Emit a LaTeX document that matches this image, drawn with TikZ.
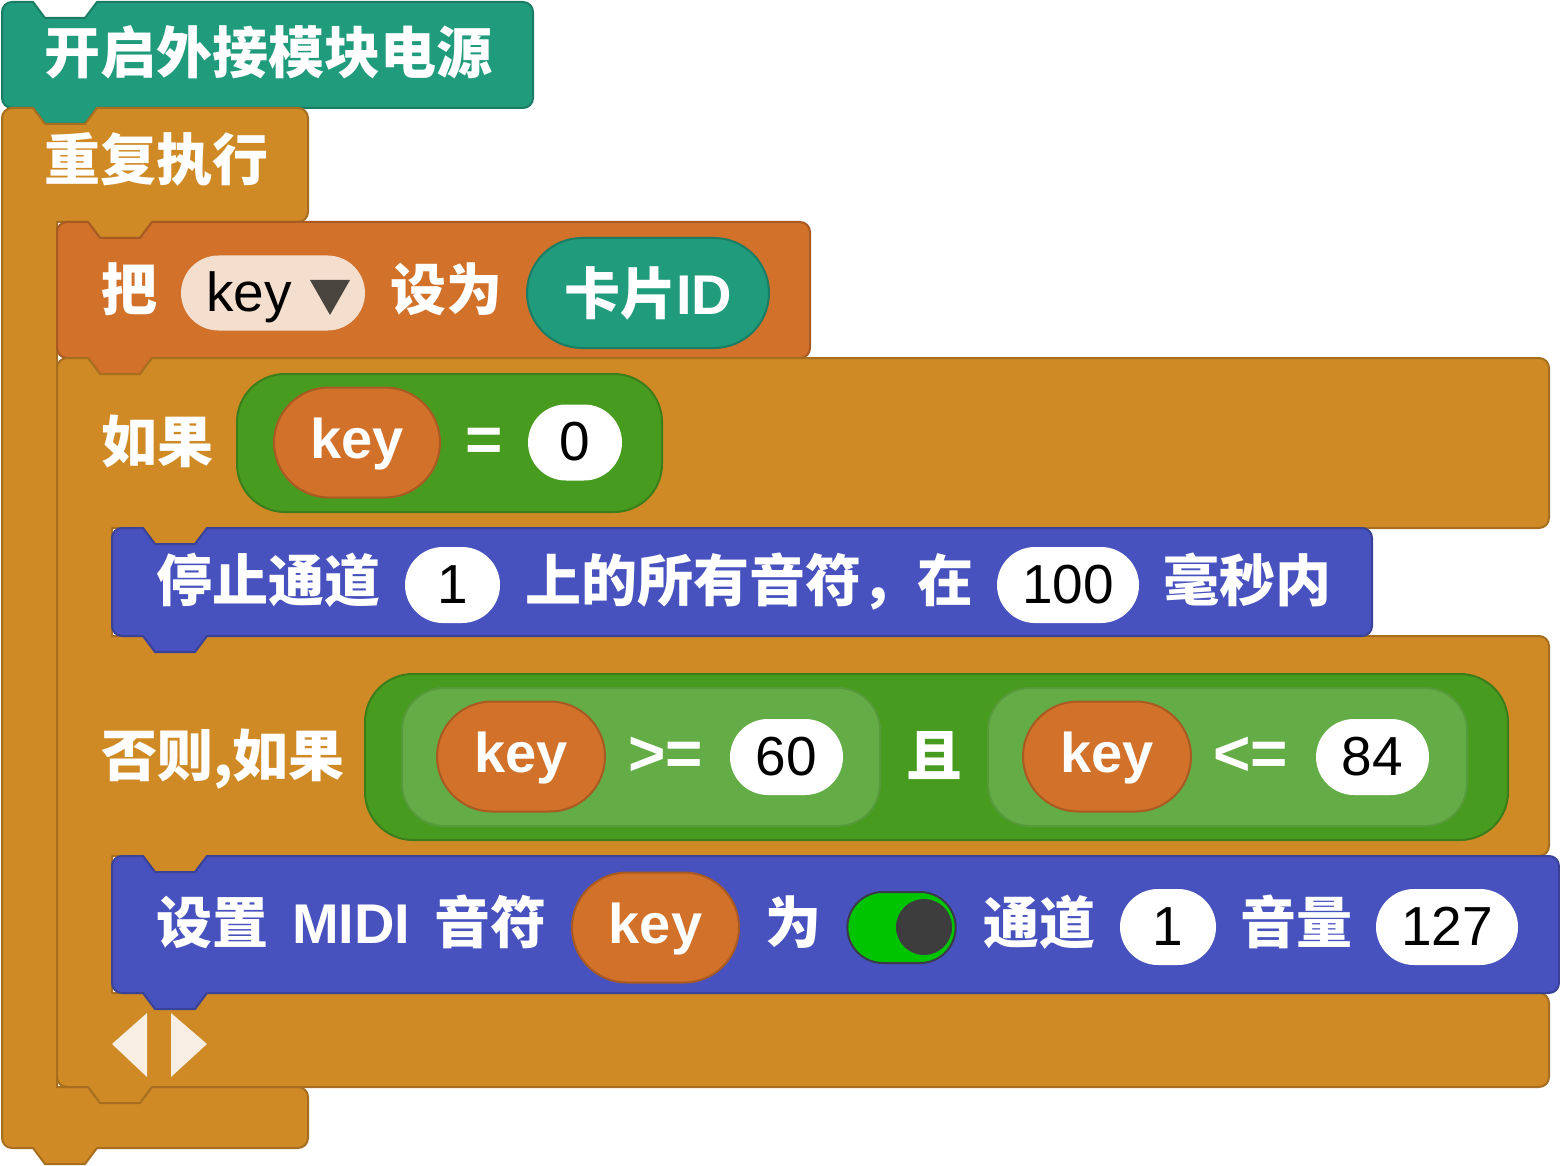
\documentclass[tikz,border=0pt]{standalone}
\usepackage{fontspec}
\setmainfont{Liberation Sans}
\newfontfamily\zhfont{Noto Sans CJK SC}
\usetikzlibrary{shapes.misc}
\definecolor{hatcol}{HTML}{209B7C}
\definecolor{hatbd}{HTML}{1A7C63}
\definecolor{loopcol}{HTML}{CF8A26}
\definecolor{loopbd}{HTML}{A66E1E}
\definecolor{setcol}{HTML}{D2712A}
\definecolor{setbd}{HTML}{A85A22}
\definecolor{bluecol}{HTML}{4852BE}
\definecolor{bluebd}{HTML}{3A4298}
\definecolor{boolcol}{HTML}{479C20}
\definecolor{boolbd}{HTML}{3A7D1A}
\definecolor{boolin}{HTML}{64AD46}
\definecolor{boolinbd}{HTML}{579A3C}
\definecolor{fieldcol}{HTML}{F4DECE}
\definecolor{tricol}{HTML}{4A443F}
\definecolor{togcol}{HTML}{00C400}
\definecolor{togbd}{HTML}{3A3A4A}
\definecolor{knobcol}{HTML}{3D3D3D}
\definecolor{arrcol}{HTML}{F8EEE1}
\newcommand{\zh}{\zhfont\bfseries\fontsize{56}{60}\selectfont}
\newcommand{\en}{\rmfamily\mdseries\fontsize{55}{60}\selectfont}
\newcommand{\enb}{\rmfamily\bfseries\fontsize{56}{60}\selectfont}
\newcommand{\opf}{\rmfamily\bfseries\fontsize{64}{66}\selectfont}
% notch on a top edge (left to right), tab on a bottom edge (right to left)
\newcommand{\ntop}[2]{-- (#1+31,#2) -- (#1+43,#2+16) -- (#1+83,#2+16) -- (#1+95,#2)}
\newcommand{\tbot}[2]{-- (#1+95,#2) -- (#1+83,#2+16) -- (#1+43,#2+16) -- (#1+31,#2)}
\newcommand{\crn}[1]{arc[start angle=#1, delta angle=90, radius=10]}
\tikzset{
  blk/.style={line width=2pt, line join=round},
  lbl/.style={anchor=west, inner sep=0pt, text=white, font=\zh, text height=42pt, text depth=0pt},
  op/.style={anchor=west, inner sep=0pt, text=white, font=\opf, text height=38pt, text depth=0pt},
  num/.style={rounded rectangle, inner sep=0pt, fill=white, minimum height=76pt, font=\en, text height=36pt, text depth=0pt},
  var/.style={rounded rectangle, inner sep=0pt, fill=setcol, draw=setbd, line width=2pt, minimum height=110pt, text=white, font=\enb, text height=32pt, text depth=0pt},
  field/.style={rounded rectangle, inner sep=0pt, fill=fieldcol, minimum height=75pt},
  card/.style={rounded rectangle, inner sep=0pt, fill=hatcol, draw=hatbd, line width=2pt, minimum height=110pt, text=white, font=\enb, text height=42pt, text depth=0pt},
  boolo/.style={rectangle, rounded corners=48pt, fill=boolcol, draw=boolbd, line width=2pt},
  booli/.style={rectangle, rounded corners=42pt, fill=boolin, draw=boolinbd, line width=2pt, minimum height=138pt},
  tog/.style={rounded rectangle, fill=togcol, draw=togbd, line width=2pt, minimum width=115pt, minimum height=71pt},
  knob/.style={circle, fill=knobcol, inner sep=0pt, minimum size=56pt}
}
\begin{document}
\begin{tikzpicture}[x=1pt, y=-1pt]
  \useasboundingbox (0,0) rectangle (1560,1166);
  % hat
  \draw[blk, fill=hatcol, draw=hatbd] (2,12) \crn{180} \ntop{2}{2} -- (523,2) \crn{270} -- (533,98) \crn{0} \tbot{2}{108} -- (12,108) \crn{90} -- cycle;
  \node[lbl] (hat) at (44,53) {开启外接模块电源};
  % forever loop
  \draw[blk, fill=loopcol, draw=loopbd] (2,118) \crn{180} \ntop{2}{108} -- (298,108) \crn{270} -- (308,212) \crn{0} \tbot{57}{222} -- (57,222) -- (57,1087) -- (298,1087) \crn{270} -- (308,1138) \crn{0} \tbot{2}{1148} -- (12,1148) \crn{90} -- cycle;
  \node[lbl] (loop) at (44,160) {重复执行};
  % set variable
  \draw[blk, fill=setcol, draw=setbd] (57,232) \crn{180} \ntop{57}{222} -- (800,222) \crn{270} -- (810,348) \crn{0} \tbot{57}{358} -- (67,358) \crn{90} -- cycle;
  \node[lbl] (setw) at (101,289) {把};
  \node[field, minimum width=184pt] (drop) at (273,293) {};
  \node[anchor=west, inner sep=0pt, font=\en, text height=36pt, text depth=0pt] (dropk) at (206,293) {key};
  \fill[tricol] (310,280) -- (350,280) -- (330,315) -- cycle;
  \node[lbl] (seta) at (390,289) {设为};
  \node[card, minimum width=242pt] (card) at (648,293) {{\zhfont 卡片}ID};
  % if / else if
  \draw[blk, fill=loopcol, draw=loopbd] (57,368) \crn{180} \ntop{57}{358} -- (1539,358) \crn{270} -- (1549,518) \crn{0} \tbot{112}{528} -- (112,528) -- (112,636) -- (1539,636) \crn{270} -- (1549,846) \crn{0} \tbot{112}{856} -- (112,856) -- (112,993) -- (1539,993) \crn{270} -- (1549,1077) \crn{0} \tbot{57}{1087} -- (67,1087) \crn{90} -- cycle;
  \node[lbl] (ifw) at (101,441) {如果};
  \node[boolo, minimum width=425pt, minimum height=138pt] (eq) at (449.5,443) {};
  \node[var, minimum width=166pt] (k1) at (357,442.5) {key};
  \node[op] (eqs) at (465,442) {=};
  \node[num, minimum width=94pt] (n0) at (575,442.5) {0};
  % stop notes
  \draw[blk, fill=bluecol, draw=bluebd] (112,538) \crn{180} \ntop{112}{528} -- (1362,528) \crn{270} -- (1372,626) \crn{0} \tbot{112}{636} -- (122,636) \crn{90} -- cycle;
  \node[lbl] (stopa) at (156,580) {停止通道};
  \node[num, minimum width=95pt] (ch1) at (452.5,585) {1};
  \node[lbl] (stopb) at (525,580) {上的所有音符，在};
  \node[num, minimum width=142pt] (ms) at (1068,585) {100};
  \node[lbl] (stopc) at (1163,580) {毫秒内};
  % else if condition
  \node[lbl] (elif) at (101,755) {否则,如果};
  \node[boolo, minimum width=1143pt, minimum height=166pt] (andb) at (936.5,757) {};
  \node[booli, minimum width=478pt] (ge) at (641,757) {};
  \node[var, minimum width=168pt] (k2) at (521,756.5) {key};
  \node[op] (ges) at (628,756) {>=};
  \node[num, minimum width=113pt] (n60) at (786.5,757) {60};
  \node[lbl] (andw) at (906,755) {且};
  \node[booli, minimum width=479pt] (le) at (1227.5,757) {};
  \node[var, minimum width=168pt] (k3) at (1107,756.5) {key};
  \node[op] (les) at (1213,756) {<=};
  \node[num, minimum width=113pt] (n84) at (1372.5,757) {84};
  % midi note
  \draw[blk, fill=bluecol, draw=bluebd] (112,866) \crn{180} \ntop{112}{856} -- (1549,856) \crn{270} -- (1559,983) \crn{0} \tbot{112}{993} -- (122,993) \crn{90} -- cycle;
  \node[lbl] (midi) at (156,922) {设置\hspace{24pt}{\enb MIDI}\hspace{24pt}音符};
  \node[var, minimum width=167pt] (k4) at (655.5,927.5) {key};
  \node[lbl] (tow) at (765,922) {为};
  \node[tog] (tg) at (901.5,927.5) {};
  \node[knob] (kb) at (924,927) {};
  \node[lbl] (chw) at (983,922) {通道};
  \node[num, minimum width=96pt] (ch2) at (1168,927) {1};
  \node[lbl] (volw) at (1240,922) {音量};
  \node[num, minimum width=142pt] (vol) at (1447,927) {127};
  % add / remove arrows
  \fill[arrcol] (112,1044) -- (147,1013) -- (147,1077) -- cycle;
  \fill[arrcol] (171,1013) -- (171,1077) -- (207,1044) -- cycle;
\end{tikzpicture}
\end{document}
